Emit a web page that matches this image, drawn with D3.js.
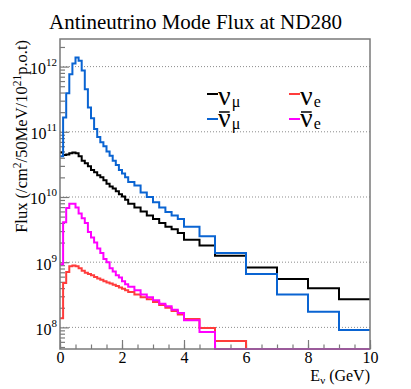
<!DOCTYPE html>
<html>
<head>
<meta charset="utf-8">
<script src="https://cdn.jsdelivr.net/npm/d3@7"></script>
<style>
  html, body { margin: 0; padding: 0; background: #fff; }
  svg text { font-family: "Liberation Serif", "Times New Roman", serif !important; fill: #000; }
</style>
</head>
<body>
<div id="chart"></div>
<script>
// bin edges in GeV (variable binning)
var binEdges = [0, 0.1, 0.2, 0.3, 0.4, 0.5, 0.6, 0.7, 0.8, 0.9, 1.0,
    1.1, 1.2, 1.3, 1.4, 1.5, 1.6, 1.7, 1.8, 1.9, 2.0, 2.1, 2.2,
    2.4, 2.6, 2.8, 3.0, 3.2, 3.4, 3.6, 3.8, 4.0, 4.5, 5, 6, 7, 8, 9, 10];

// flux per bin (/cm2/50MeV/1e21 p.o.t)
var numu = [4.8e10, 4.4e10, 4.5e10, 4.7e10, 4.8e10, 4.7e10, 4.2e10, 3.6e10, 3.3e10, 2.95e10,
    2.6e10, 2.4e10, 2.15e10, 2.0e10, 1.8e10, 1.6e10, 1.45e10, 1.35e10, 1.23e10, 1.1e10, 1.02e10, 9.1e9,
    7.9e9, 6.9e9, 6.0e9, 5.2e9, 4.6e9, 4.0e9, 3.5e9, 3.2e9, 2.8e9,
    2.2e9, 1.8e9, 1.26e9, 8.3e8, 5.5e8, 4.0e8, 2.7e8];
var numubar = [4.2e10, 1.66e11, 3.9e11, 7.6e11, 1.12e12, 1.38e12, 1.23e12, 8.7e11, 4.5e11, 2.35e11,
    1.62e11, 1.1e11, 8.3e10, 6.9e10, 6.0e10, 5.0e10, 4.3e10, 3.6e10, 3.1e10, 2.6e10, 2.3e10, 2.0e10,
    1.7e10, 1.5e10, 1.17e10, 1.0e10, 8.3e9, 6.9e9, 5.9e9, 5.2e9, 4.6e9,
    3.5e9, 2.5e9, 1.38e9, 6.6e8, 3.2e8, 1.74e8, 9.1e7];
var nue = [1.38e8, 4.8e8, 7.1e8, 8.7e8, 8.9e8, 8.7e8, 8.1e8, 7.4e8, 6.9e8, 6.6e8,
    6.3e8, 5.9e8, 5.6e8, 5.4e8, 5.1e8, 4.9e8, 4.7e8, 4.5e8, 4.3e8, 4.1e8, 3.9e8, 3.7e8,
    3.5e8, 3.2e8, 2.9e8, 2.7e8, 2.45e8, 2.2e8, 2.0e8, 1.78e8, 1.58e8,
    1.35e8, 9.8e7, 6.2e7, 0, 0, 0, 0];
var nuebar = [9.3e8, 4.1e9, 6.8e9, 7.9e9, 7.9e9, 6.9e9, 5.6e9, 4.7e9, 4.0e9, 2.9e9,
    2.4e9, 2.0e9, 1.62e9, 1.38e9, 1.12e9, 1.0e9, 8.1e8, 7.2e8, 6.3e8, 5.8e8, 5.1e8, 4.6e8,
    4.2e8, 3.7e8, 3.2e8, 2.9e8, 2.6e8, 2.3e8, 2.1e8, 1.86e8, 1.66e8,
    1.29e8, 8.5e7, 0, 0, 0, 0, 0];

var xTicks = [0, 2, 4, 6, 8, 10];
var xMinorTicks = d3.range(0, 10.01, 0.5);
var decades = [1e8, 1e9, 1e10, 1e11, 1e12];

var width = 411,
    height = 389;
var pLeft = 60, pRight = 370, pTop = 39, pBottom = 349;
var yMin = 4.66e7, yMax = 2.65e12;
var frameColor = "#7a7a7a";
var serif = '"Liberation Serif", "Times New Roman", serif';

var svg = d3.select("#chart")
    .append("svg")
    .attr("width", width)
    .attr("height", height);

var x = d3.scaleLinear().domain([0, 10]).range([pLeft, pRight]);
var y = d3.scaleLog().domain([yMin, yMax]).range([pBottom, pTop]);

// grid lines at the decades
svg.append("g")
    .selectAll("line")
    .data(decades)
    .enter()
    .append("line")
    .attr("x1", pLeft)
    .attr("x2", pRight)
    .attr("y1", function (d) { return y(d); })
    .attr("y2", function (d) { return y(d); })
    .attr("stroke", "#8c8c8c")
    .attr("stroke-width", 1)
    .attr("stroke-dasharray", "1,2");

// x axis, ticks pointing inward
var xAxis = svg.append("g")
    .attr("transform", "translate(0," + pBottom + ")")
    .call(d3.axisBottom(x).tickValues(xTicks).tickSize(-9).tickPadding(3)
        .tickFormat(d3.format("d")))
    .attr("font-family", serif)
    .attr("font-size", 16);
svg.append("g")
    .attr("transform", "translate(0," + pBottom + ")")
    .call(d3.axisBottom(x).tickValues(xMinorTicks).tickSize(-4.5).tickFormat(""))
    .call(function (g) { g.select(".domain").remove(); });

// y axis
var yAxis = svg.append("g")
    .attr("transform", "translate(" + pLeft + ",0)")
    .call(d3.axisLeft(y).tickValues(decades).tickSize(-9).tickPadding(3).tickFormat(""))
    .attr("font-family", serif)
    .attr("font-size", 16);
var minorY = y.ticks().filter(function (d) {
    var l = Math.log10(d);
    return Math.abs(l - Math.round(l)) > 1e-6;
});
svg.append("g")
    .attr("transform", "translate(" + pLeft + ",0)")
    .call(d3.axisLeft(y).tickValues(minorY).tickSize(-5).tickFormat(""))
    .call(function (g) { g.select(".domain").remove(); });

svg.selectAll(".domain").remove();
svg.selectAll(".tick line").attr("stroke", frameColor).attr("stroke-width", 1.2);

// y tick labels 10^n
var yLab = yAxis.selectAll(".tick text")
    .attr("x", -3)
    .attr("dy", "7px")
    .attr("text-anchor", "end");
yLab.text("10")
    .append("tspan")
    .attr("dy", "-8px")
    .style("font-size", "11px")
    .text(function (d) { return Math.round(Math.log10(d)); });

// histograms
var line = d3.line()
    .x(function (d) { return x(d[0]); })
    .y(function (d) { return y(Math.max(d[1], yMin)); })
    .curve(d3.curveStepAfter);

function stepPoints(vals) {
    var pts = vals.map(function (v, i) { return [binEdges[i], v]; });
    pts.push([binEdges[binEdges.length - 1], vals[vals.length - 1]]);
    return pts;
}

var series = [
    { values: numu, color: "#000000" },
    { values: numubar, color: "#0a64d2" },
    { values: nue, color: "#ff3c3c" },
    { values: nuebar, color: "#ff00ff" }
];

svg.append("g")
    .selectAll("path")
    .data(series)
    .enter()
    .append("path")
    .attr("d", function (d) { return line(stepPoints(d.values)); })
    .attr("fill", "none")
    .attr("stroke", function (d) { return d.color; })
    .attr("stroke-width", 2);

// frame
svg.append("rect")
    .attr("x", pLeft)
    .attr("y", pTop)
    .attr("width", pRight - pLeft)
    .attr("height", pBottom - pTop)
    .attr("fill", "none")
    .attr("stroke", frameColor)
    .attr("stroke-width", 1.5);

// title
svg.append("text")
    .attr("x", 195.5)
    .attr("y", 29)
    .attr("text-anchor", "middle")
    .style("font-size", "21px")
    .text("Antineutrino Mode Flux at ND280");

// y title
var yt = svg.append("text")
    .attr("transform", "translate(27,40) rotate(-90)")
    .attr("text-anchor", "end")
    .style("font-size", "16.5px");
yt.append("tspan").text("Flux (/cm");
yt.append("tspan").attr("dy", "-6px").style("font-size", "11.5px").text("2");
yt.append("tspan").attr("dy", "6px").text("/50MeV/10");
yt.append("tspan").attr("dy", "-6px").style("font-size", "11.5px").text("21");
yt.append("tspan").attr("dy", "6px").text("p.o.t)");

// x title
var xt = svg.append("text")
    .attr("x", 370)
    .attr("y", 381)
    .attr("text-anchor", "end")
    .style("font-size", "16px");
xt.append("tspan").text("E");
xt.append("tspan").attr("dy", "3px").style("font-size", "11px").text("\u03bd");
xt.append("tspan").attr("dy", "-3px").text(" (GeV)");

// legend
var legend = [
    { sub: "\u03bc", bar: false, color: "#000000", lx: 207, ly: 94, tx: 218, ty: 105 },
    { sub: "e", bar: false, color: "#ff3c3c", lx: 289, ly: 94, tx: 300, ty: 105 },
    { sub: "\u03bc", bar: true, color: "#0a64d2", lx: 207, ly: 119, tx: 218, ty: 127 },
    { sub: "e", bar: true, color: "#ff00ff", lx: 289, ly: 119, tx: 300, ty: 127 }
];
legend.forEach(function (d) {
    svg.append("line")
        .attr("x1", d.lx).attr("x2", d.lx + 11)
        .attr("y1", d.ly).attr("y2", d.ly)
        .attr("stroke", d.color).attr("stroke-width", 2);
    var t = svg.append("text")
        .attr("x", d.tx).attr("y", d.ty)
        .style("font-size", "28px");
    t.append("tspan").text("\u03bd");
    t.append("tspan").attr("dx", "1px").attr("dy", "2px").style("font-size", "16px").text(d.sub);
    var w = t.node().getSubStringLength(0, 1);
    if (d.bar) {
        svg.append("line")
            .attr("x1", d.tx + 1).attr("x2", d.tx + w - 1)
            .attr("y1", d.ty - 15).attr("y2", d.ty - 15)
            .attr("stroke", "#000").attr("stroke-width", 1.5);
    }
});
</script>
</body>
</html>
